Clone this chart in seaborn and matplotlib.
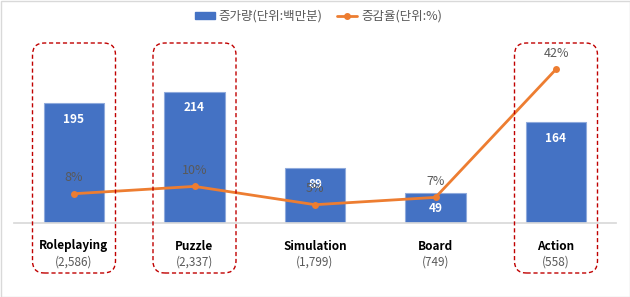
import matplotlib
matplotlib.use("Agg")
import matplotlib.pyplot as plt
import seaborn as sns
from matplotlib.patches import FancyBboxPatch, Rectangle, Patch
from matplotlib.lines import Line2D

categories = ["Roleplaying", "Puzzle", "Simulation", "Board", "Action"]
counts = ["(2,586)", "(2,337)", "(1,799)", "(749)", "(558)"]
increase = [195, 214, 89, 49, 164]
rate = [8, 10, 5, 7, 42]
highlight = ["Roleplaying", "Puzzle", "Action"]

sns.set_theme(style="white")
plt.rcParams['font.family'] = ['Noto Sans CJK KR', 'DejaVu Sans']

BLUE = "#4472C4"
ORANGE = "#ED7D31"
GRAY = "#595959"

W, H = 630, 297
fig = plt.figure(figsize=(W / 100, H / 100), dpi=100)
ax = fig.add_axes([13.75 / W, 74 / H, 602.5 / W, 183 / H])

sns.barplot(x=categories, y=increase, color=BLUE, width=0.5, saturation=1,
            edgecolor="#8FAADC", linewidth=0.8, ax=ax)
ax.set_ylim(0, 298)
ax.set_xlim(-0.5, len(categories) - 0.5)

ax2 = ax.twinx()
xs = list(range(len(categories)))
sns.lineplot(x=xs, y=rate, color=ORANGE, marker="o", markersize=5,
             markeredgewidth=0, linewidth=2, ax=ax2)
ax2.set_ylim(0, 50)
ax2.set_xlim(-0.5, len(categories) - 0.5)

for a in (ax, ax2):
    for s in ("top", "left", "right"):
        a.spines[s].set_visible(False)
    a.set_yticks([])
    a.set_ylabel("")
ax.spines["bottom"].set_color("#D9D9D9")
ax2.spines["bottom"].set_visible(False)
ax.set_xticks([])
ax2.set_xticks([])

# bar value labels
for i, v in enumerate(increase):
    ax.annotate(str(v), (i, v), xytext=(0, -16), textcoords="offset pixels",
                ha="center", va="center", color="white", fontsize=8.5, fontweight="bold")
# line labels
for i, r in enumerate(rate):
    ax2.annotate(f"{r}%", (i, r), xytext=(0, 16), textcoords="offset pixels",
                 ha="center", va="center", color=GRAY, fontsize=9)

# category labels
xt = ax.get_xaxis_transform()
for i, (c, n) in enumerate(zip(categories, counts)):
    ax.text(i, -23 / 183, c, transform=xt, ha="center", va="center",
            fontsize=8.5, fontweight="bold", color="black")
    ax.text(i, -39 / 183, n, transform=xt, ha="center", va="center",
            fontsize=8.5, color=GRAY)

# dashed highlight boxes
for c in highlight:
    i = categories.index(c)
    cx, _ = ax.transData.transform((i, 0))
    x0 = (cx - 41.5) / 100
    y0 = 24 / 100
    r = 0.12
    box = FancyBboxPatch((x0 + r, y0 + r), 0.83 - 2 * r, 2.30 - 2 * r,
                         boxstyle=f"round,pad={r}", transform=fig.dpi_scale_trans,
                         fill=False, edgecolor="#C00000", linestyle=(0, (3, 2)),
                         linewidth=1.0)
    fig.add_artist(box)

# legend
handles = [Patch(facecolor=BLUE, edgecolor=BLUE),
           Line2D([0], [0], color=ORANGE, marker="o", markersize=4, linewidth=2)]
fig.legend(handles, ["증가량(단위:백만분)", "증감율(단위:%)"], loc="center",
           bbox_to_anchor=(0.505, 1 - 16 / H), ncol=2, frameon=False,
           fontsize=9, handlelength=1.6, handleheight=0.5, columnspacing=1.2,
           handletextpad=0.3, labelcolor=GRAY)

fig.add_artist(Rectangle((0.5 / W, 0.5 / H), 1 - 1 / W, 1 - 1 / H, transform=fig.transFigure,
                         fill=False, edgecolor="#D9D9D9", linewidth=1))

fig.savefig("out.png", dpi=100)
